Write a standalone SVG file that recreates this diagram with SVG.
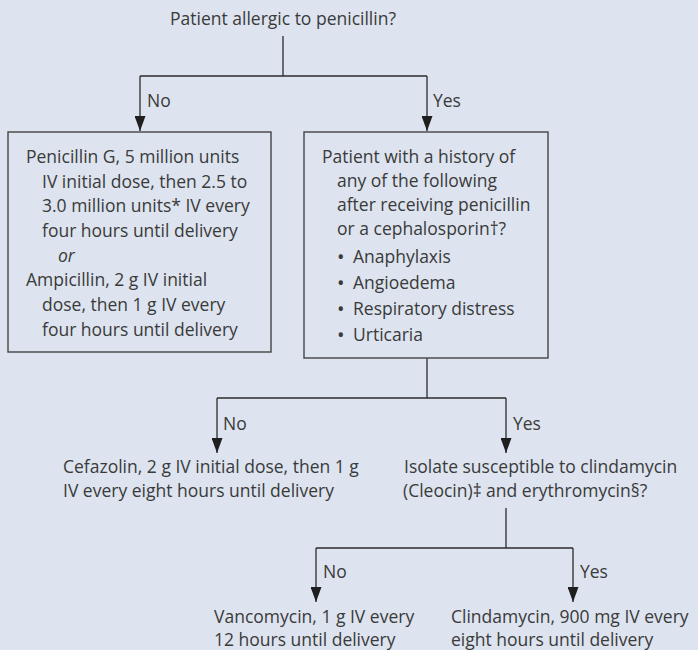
<svg xmlns="http://www.w3.org/2000/svg" width="698" height="650" viewBox="0 0 698 650">
<defs>
<style>
text{font-family:"Open Sans","Noto Sans","Liberation Sans",sans-serif;font-size:17.5px;fill:#3a3a3a;}
.it{font-style:italic;}
.bl{font-size:20px;}
.box{fill:none;stroke:#4d4d4f;stroke-width:1.5;}
.ln{fill:none;stroke:#2b2b2b;stroke-width:1.3;}
</style>
<marker id="ah" viewBox="0 0 15 11" refX="15" refY="5.5" markerWidth="15" markerHeight="11" markerUnits="userSpaceOnUse" orient="auto">
<path d="M0,0 L15,5.5 L0,11 z" fill="#1f1f1f"/>
</marker>
</defs>
<rect width="698" height="650" fill="#dde4ef"/>

<g id="connectors">
<path class="ln" d="M283,36 V76 M140,76 H427"/>
<path class="ln" d="M140,76 V131" marker-end="url(#ah)"/>
<path class="ln" d="M427,76 V131" marker-end="url(#ah)"/>
<text x="147" y="107">No</text>
<text x="433" y="107">Yes</text>
<path class="ln" d="M427,358 V398 M217,398 H506"/>
<path class="ln" d="M217,398 V453" marker-end="url(#ah)"/>
<path class="ln" d="M506,398 V453" marker-end="url(#ah)"/>
<text x="223" y="430">No</text>
<text x="513" y="430">Yes</text>
<path class="ln" d="M506,508 V548 M316,548 H573"/>
<path class="ln" d="M316,548 V602" marker-end="url(#ah)"/>
<path class="ln" d="M573,548 V602" marker-end="url(#ah)"/>
<text x="323" y="578">No</text>
<text x="580" y="578">Yes</text>
</g>

<g id="q1">
<text x="170" y="25">Patient allergic to penicillin?</text>
</g>

<g id="penicillin">
<rect class="box" x="8" y="132" width="263" height="220"/>
<text x="26" y="163">Penicillin G, 5 million units</text>
<text x="42" y="187.7">IV initial dose, then 2.5 to</text>
<text x="42" y="212.4">3.0 million units* IV every</text>
<text x="42" y="237">four hours until delivery</text>
<text class="it" x="58" y="261.7">or</text>
<text x="26" y="286.4">Ampicillin, 2 g IV initial</text>
<text x="42" y="311">dose, then 1 g IV every</text>
<text x="42" y="335.8">four hours until delivery</text>
</g>

<g id="q2">
<rect class="box" x="304" y="132" width="244" height="226"/>
<text x="322" y="163">Patient with a history of</text>
<text x="337" y="187">any of the following</text>
<text x="337" y="211">after receiving penicillin</text>
<text x="337" y="235">or a cephalosporin†?</text>
<text x="337" y="263"><tspan class="bl" dy="1">•</tspan><tspan x="353" dy="-1">Anaphylaxis</tspan></text>
<text x="337" y="289"><tspan class="bl" dy="1">•</tspan><tspan x="353" dy="-1">Angioedema</tspan></text>
<text x="337" y="315"><tspan class="bl" dy="1">•</tspan><tspan x="353" dy="-1">Respiratory distress</tspan></text>
<text x="337" y="341"><tspan class="bl" dy="1">•</tspan><tspan x="353" dy="-1">Urticaria</tspan></text>
</g>

<g id="cefazolin">
<text x="63" y="473">Cefazolin, 2 g IV initial dose, then 1 g</text>
<text x="63" y="497">IV every eight hours until delivery</text>
</g>

<g id="q3">
<text x="404" y="473">Isolate susceptible to clindamycin</text>
<text x="403" y="497">(Cleocin)‡ and erythromycin§?</text>
</g>

<g id="vancomycin">
<text x="214" y="623">Vancomycin, 1 g IV every</text>
<text x="214" y="646">12 hours until delivery</text>
</g>

<g id="clindamycin">
<text x="451" y="623">Clindamycin, 900 mg IV every</text>
<text x="451" y="646">eight hours until delivery</text>
</g>
</svg>
